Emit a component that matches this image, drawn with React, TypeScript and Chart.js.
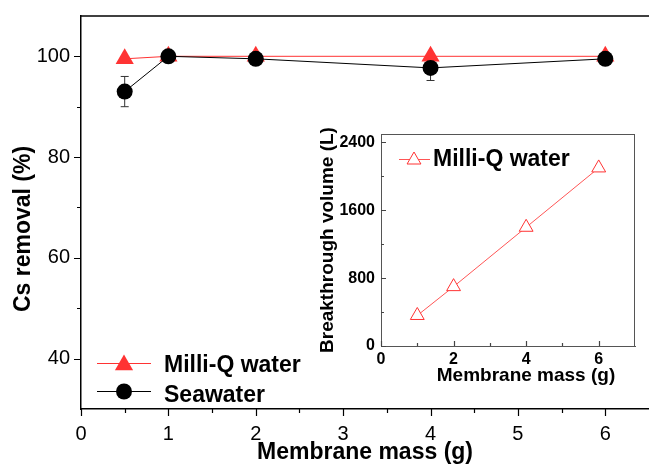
import React, { useEffect, useRef } from 'react';
import { Chart, registerables } from 'chart.js';

Chart.register(...registerables);

// ---- data ----
const massMain = [0.5, 1, 2, 4, 6];
const milliQRemoval = [99.5, 100, 100, 100, 100];
const seawaterRemoval = [93, 100, 99.5, 97.7, 99.5];
const seawaterError = [3, 0.4, 0.5, 2.5, 1];
const mainXTicks = [0, 1, 2, 3, 4, 5, 6];
const mainXMinor = [0.5, 1.5, 2.5, 3.5, 4.5, 5.5];
const mainYTicks = [40, 60, 80, 100];
const mainYMinor = [50, 70, 90];

const insetMass = [1, 2, 4, 6];
const insetVolume = [360, 700, 1400, 2100];
const insetXTicks = [0, 2, 4, 6];
const insetXMinor = [1, 3, 5];
const insetYTicks = [0, 800, 1600, 2400];
const insetYMinor = [400, 1200, 2000];

const FONT = "'Liberation Sans', Arial, Helvetica, sans-serif";
const RED = '#ff3333';

function triangle(ctx: CanvasRenderingContext2D, x: number, y: number, r: number, fill: string | null, stroke: string | null) {
  ctx.beginPath();
  ctx.moveTo(x, y - r);
  ctx.lineTo(x + r * 0.866, y + r / 2);
  ctx.lineTo(x - r * 0.866, y + r / 2);
  ctx.closePath();
  if (fill) { ctx.fillStyle = fill; ctx.fill(); }
  if (stroke) { ctx.strokeStyle = stroke; ctx.lineWidth = 1; ctx.stroke(); }
}

function drawTicks(chart: any, xMajor: number[], xMinor: number[], yMajor: number[], yMinor: number[], majLen: number, minLen: number, inward: boolean, color: string) {
  const ctx = chart.ctx as CanvasRenderingContext2D;
  const { left, bottom } = chart.chartArea;
  const xs = chart.scales.x, ys = chart.scales.y;
  const dir = inward ? -1 : 1;
  ctx.save();
  ctx.strokeStyle = color;
  ctx.lineWidth = 1.2;
  ctx.beginPath();
  const xt = (arr: number[], len: number) => arr.forEach(v => {
    const p = Math.round(xs.getPixelForValue(v)) + 0.5;
    ctx.moveTo(p, bottom);
    ctx.lineTo(p, bottom + dir * len);
  });
  const yt = (arr: number[], len: number) => arr.forEach(v => {
    const p = Math.round(ys.getPixelForValue(v)) + 0.5;
    ctx.moveTo(left, p);
    ctx.lineTo(left - dir * len, p);
  });
  xt(xMajor, majLen); xt(xMinor, minLen); yt(yMajor, majLen); yt(yMinor, minLen);
  ctx.stroke();
  ctx.restore();
}

const fitX = (h: number) => (s: any) => { s.height = h; s.paddingLeft = 0; s.paddingRight = 0; };
const fitY = (w: number) => (s: any) => { s.width = w; s.paddingTop = 0; s.paddingBottom = 0; };
const plain = (v: any) => String(v);

const MainChart: React.FC = () => {
  const ref = useRef<HTMLCanvasElement>(null);
  useEffect(() => {
    if (!ref.current) return;
    const decor = {
      id: 'mainDecor',
      beforeDatasetsDraw(chart: any) {
        const ctx = chart.ctx as CanvasRenderingContext2D;
        const xs = chart.scales.x, ys = chart.scales.y;
        ctx.save();
        ctx.strokeStyle = '#333';
        ctx.lineWidth = 1;
        ctx.beginPath();
        massMain.forEach((m, i) => {
          const e = seawaterError[i];
          const px = xs.getPixelForValue(m);
          const y1 = ys.getPixelForValue(seawaterRemoval[i] + e);
          const y2 = ys.getPixelForValue(seawaterRemoval[i] - e);
          ctx.moveTo(px, y1); ctx.lineTo(px, y2);
          ctx.moveTo(px - 4, y1); ctx.lineTo(px + 4, y1);
          ctx.moveTo(px - 4, y2); ctx.lineTo(px + 4, y2);
        });
        ctx.stroke();
        ctx.restore();
      },
      afterDraw(chart: any) {
        const ctx = chart.ctx as CanvasRenderingContext2D;
        const { left, right, top } = chart.chartArea;
        drawTicks(chart, mainXTicks, mainXMinor, mainYTicks, mainYMinor, 7, 4, false, '#000');
        ctx.save();
        // top border
        ctx.strokeStyle = '#000';
        ctx.lineWidth = 1.5;
        ctx.beginPath();
        ctx.moveTo(left, top);
        ctx.lineTo(right, top);
        ctx.stroke();
        // axis titles
        ctx.fillStyle = '#000';
        ctx.font = `bold 23px ${FONT}`;
        ctx.textAlign = 'center';
        ctx.textBaseline = 'alphabetic';
        ctx.fillText('Membrane mass (g)', 365, 459);
        ctx.save();
        ctx.translate(30, 229);
        ctx.rotate(-Math.PI / 2);
        ctx.fillText('Cs removal (%)', 0, 0);
        ctx.restore();
        // legend
        ctx.lineWidth = 1;
        ctx.strokeStyle = RED;
        ctx.beginPath(); ctx.moveTo(97, 363.5); ctx.lineTo(151, 363.5); ctx.stroke();
        triangle(ctx, 124, 365, 10.5, RED, null);
        ctx.strokeStyle = '#000';
        ctx.beginPath(); ctx.moveTo(97, 391.5); ctx.lineTo(151, 391.5); ctx.stroke();
        ctx.fillStyle = '#000';
        ctx.beginPath(); ctx.arc(124, 391.5, 8, 0, Math.PI * 2); ctx.fill();
        ctx.textAlign = 'left';
        ctx.fillText('Milli-Q water', 164, 372);
        ctx.fillText('Seawater', 164, 402);
        ctx.restore();
      },
    };
    const chart = new Chart(ref.current, {
      type: 'line',
      data: {
        datasets: [
          {
            label: 'Milli-Q water',
            data: massMain.map((m, i) => ({ x: m, y: milliQRemoval[i] })),
            borderColor: RED,
            borderWidth: 1,
            pointStyle: 'triangle',
            pointRadius: 10.5,
            pointBackgroundColor: RED,
            pointBorderColor: RED,
            pointBorderWidth: 0,
            order: 1,
            clip: false,
          },
          {
            label: 'Seawater',
            data: massMain.map((m, i) => ({ x: m, y: seawaterRemoval[i] })),
            borderColor: '#000',
            borderWidth: 1,
            pointStyle: 'circle',
            pointRadius: 8,
            pointBackgroundColor: '#000',
            pointBorderColor: '#000',
            pointBorderWidth: 0,
            order: 0,
            clip: false,
          },
        ] as any,
      },
      options: {
        animation: false,
        responsive: false,
        events: [],
        layout: { autoPadding: false, padding: { top: 16, right: 0, left: 0, bottom: 0 } },
        plugins: { legend: { display: false }, tooltip: { enabled: false } },
        scales: {
          x: {
            type: 'linear',
            min: 0,
            max: 6.5,
            afterBuildTicks: (s: any) => { s.ticks = mainXTicks.map(v => ({ value: v })); },
            afterFit: fitX(59),
            ticks: { font: { family: FONT, size: 20 }, color: '#000', padding: 13, maxRotation: 0, autoSkip: false, callback: plain },
            grid: { display: false, drawTicks: false },
            border: { display: true, color: '#000', width: 1.5 },
          },
          y: {
            type: 'linear',
            min: 30,
            max: 108,
            afterBuildTicks: (s: any) => { s.ticks = mainYTicks.map(v => ({ value: v })); },
            afterFit: fitY(81),
            ticks: { font: { family: FONT, size: 20 }, color: '#000', padding: 11, autoSkip: false, callback: plain },
            grid: { display: false, drawTicks: false },
            border: { display: true, color: '#000', width: 1.5 },
          },
        },
      } as any,
      plugins: [decor],
    });
    return () => chart.destroy();
  }, []);
  return <canvas ref={ref} width={649} height={468} style={{ position: 'absolute', left: 0, top: 0, width: 649, height: 468 }} />;
};

const InsetChart: React.FC = () => {
  const ref = useRef<HTMLCanvasElement>(null);
  useEffect(() => {
    if (!ref.current) return;
    const decor = {
      id: 'insetDecor',
      afterDraw(chart: any) {
        const ctx = chart.ctx as CanvasRenderingContext2D;
        const { left, right, top, bottom } = chart.chartArea;
        drawTicks(chart, insetXTicks, insetXMinor, insetYTicks, insetYMinor, 5, 3, true, '#444');
        ctx.save();
        ctx.strokeStyle = '#555';
        ctx.lineWidth = 1;
        ctx.beginPath();
        ctx.moveTo(left, top + 0.5); ctx.lineTo(right, top + 0.5);
        ctx.moveTo(right - 0.5, top); ctx.lineTo(right - 0.5, bottom);
        ctx.stroke();
        // titles
        ctx.fillStyle = '#000';
        ctx.font = `bold 19px ${FONT}`;
        ctx.textAlign = 'center';
        ctx.textBaseline = 'alphabetic';
        ctx.fillText('Membrane mass (g)', 226, 263);
        ctx.save();
        ctx.translate(33, 122);
        ctx.rotate(-Math.PI / 2);
        ctx.fillText('Breakthrough volume (L)', 0, 0);
        ctx.restore();
        // legend
        ctx.strokeStyle = '#ff5555';
        ctx.lineWidth = 1;
        ctx.beginPath(); ctx.moveTo(99, 41.5); ctx.lineTo(130, 41.5); ctx.stroke();
        triangle(ctx, 114, 42, 8, '#fff', RED);
        ctx.font = `bold 23px ${FONT}`;
        ctx.textAlign = 'left';
        ctx.fillStyle = '#000';
        ctx.fillText('Milli-Q water', 133, 48);
        ctx.restore();
      },
    };
    const chart = new Chart(ref.current, {
      type: 'line',
      data: {
        datasets: [
          {
            label: 'Milli-Q water',
            data: insetMass.map((m, i) => ({ x: m, y: insetVolume[i] })),
            borderColor: '#ff5555',
            borderWidth: 1,
            pointStyle: 'triangle',
            pointRadius: 8,
            pointBackgroundColor: '#fff',
            pointBorderColor: RED,
            pointBorderWidth: 1,
          },
        ] as any,
      },
      options: {
        animation: false,
        responsive: false,
        events: [],
        layout: { autoPadding: false, padding: { top: 16, right: 14, left: 0, bottom: 0 } },
        plugins: { legend: { display: false }, tooltip: { enabled: false } },
        scales: {
          x: {
            type: 'linear',
            min: 0,
            max: 7,
            afterBuildTicks: (s: any) => { s.ticks = insetXTicks.map(v => ({ value: v })); },
            afterFit: fitX(44),
            ticks: { font: { family: FONT, size: 16, weight: 'bold' }, color: '#000', padding: 4, maxRotation: 0, autoSkip: false, callback: plain },
            grid: { display: false, drawTicks: false },
            border: { display: true, color: '#555', width: 1 },
          },
          y: {
            type: 'linear',
            min: 0,
            max: 2500,
            afterBuildTicks: (s: any) => { s.ticks = insetYTicks.map(v => ({ value: v })); },
            afterFit: fitY(81),
            ticks: { font: { family: FONT, size: 16, weight: 'bold' }, color: '#000', padding: 6, autoSkip: false, callback: plain },
            grid: { display: false, drawTicks: false },
            border: { display: true, color: '#555', width: 1 },
          },
        },
      } as any,
      plugins: [decor],
    });
    return () => chart.destroy();
  }, []);
  return <canvas ref={ref} width={349} height={272} style={{ position: 'absolute', left: 300, top: 118, width: 349, height: 272 }} />;
};

export default function App() {
  return (
    <div style={{ position: 'absolute', left: 0, top: 0, width: 649, height: 468, background: '#fff', overflow: 'hidden' }}>
      <MainChart />
      <InsetChart />
    </div>
  );
}
